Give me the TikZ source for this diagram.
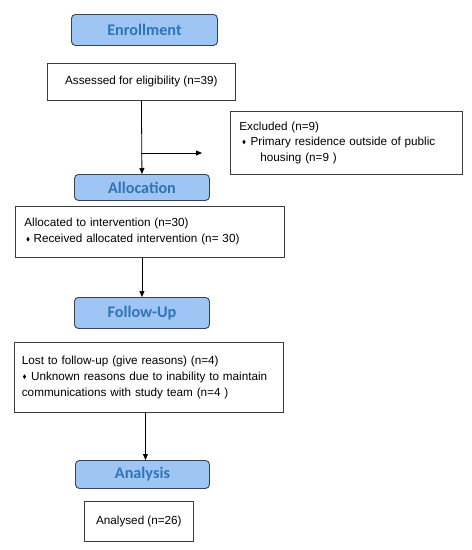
\documentclass[tikz,border=0pt]{standalone}
\usepackage{fontspec}
\setmainfont{Liberation Sans}
\newfontfamily\headfont{Carlito}
\usetikzlibrary{arrows.meta,calc}
\definecolor{hdrfill}{RGB}{158,197,243}
\definecolor{hdrdraw}{RGB}{52,66,88}
\definecolor{hdrtext}{RGB}{46,117,182}
\definecolor{boxdraw}{RGB}{60,60,60}
\newcommand{\dmd}{\tikz[baseline=-0.6ex]\fill (0,2.4pt) -- (1.6pt,0) -- (0,-2.4pt) -- (-1.6pt,0) -- cycle;}
\tikzset{
  hdr/.style={draw=hdrdraw, line width=0.9pt, fill=hdrfill, rounded corners=4pt,
    anchor=north west, inner sep=0pt, text=hdrtext,
    font=\headfont\bfseries\fontsize{16.2}{18}\selectfont},
  txtbox/.style={draw=boxdraw, line width=0.8pt, anchor=north west, inner sep=0pt,
    font=\fontsize{11.7}{16}\selectfont},
  arr/.style={-{Triangle[length=6pt,width=5pt]}, line width=0.8pt, black},
}
\begin{document}
\begin{tikzpicture}[x=1pt,y=-1pt]
\useasboundingbox (0,0) rectangle (472,550);
% headers
\node[hdr, minimum width=146pt, minimum height=31pt] (enr) at (71,14) {Enrollment};
\node[hdr, minimum width=135pt, minimum height=26pt] (alloc) at (74,174) {Allocation};
\node[hdr, minimum width=135pt, minimum height=31pt] (fu) at (74,297) {Follow-Up};
\node[hdr, minimum width=134pt, minimum height=28pt] (an) at (75,460) {Analysis};
% text boxes
\node[txtbox, minimum width=188pt, minimum height=37pt] (assess) at (47,63) {Assessed for eligibility (n=39)};
\node[txtbox, minimum width=232pt, minimum height=63pt, text width=214pt, align=left] (excl) at (230,111)
  {Excluded (n=9)\\[-0.5pt]
   \hspace*{3pt}\dmd\hspace{5pt}Primary residence outside of public\\
   \hspace*{21pt}housing (n=9 )};
\node[txtbox, minimum width=269pt, minimum height=51pt, text width=251pt, align=left] (alloc2) at (15,206)
  {Allocated to intervention (n=30)\\
   \hspace*{2pt}\dmd\hspace{4pt}Received allocated intervention (n= 30)};
\node[txtbox, minimum width=269pt, minimum height=70pt, text width=254pt, align=left] (lost) at (14,342)
  {Lost to follow-up (give reasons) (n=4)\\
   \hspace*{1pt}\dmd\hspace{5pt}Unknown reasons due to inability to maintain\\
   communications with study team (n=4 )};
\node[txtbox, minimum width=109pt, minimum height=40pt] (anal) at (84,501) {Analysed (n=26)};
% connectors
\coordinate (br) at (141,153);
\coordinate (brend) at (202,153);
\draw[arr] (assess.south) -- (alloc.north);
\draw[arr] (br) -- (brend);
\draw[arr] (fu.north |- alloc2.south) -- (fu.north);
\draw[arr] ([xshift=3pt]an.north |- lost.south) -- ([xshift=3pt]an.north);
\end{tikzpicture}
\end{document}
